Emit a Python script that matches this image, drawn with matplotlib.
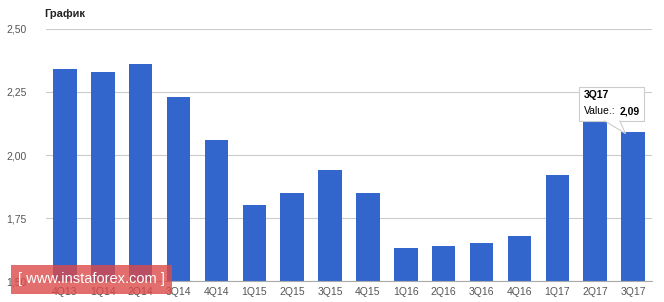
import matplotlib
matplotlib.use("Agg")
import matplotlib.pyplot as plt
from matplotlib.patches import Polygon
from matplotlib.transforms import offset_copy

plt.rcParams['font.family'] = ['Liberation Sans', 'DejaVu Sans']

# quarterly values
quarters = ['4Q13', '1Q14', '2Q14', '3Q14', '4Q14', '1Q15', '2Q15', '3Q15', '4Q15',
            '1Q16', '2Q16', '3Q16', '4Q16', '1Q17', '2Q17', '3Q17']
values = [2.34, 2.33, 2.36, 2.23, 2.06, 1.80, 1.85, 1.94, 1.85,
          1.63, 1.64, 1.65, 1.68, 1.92, 2.15, 2.09]
y_ticks = [1.50, 1.75, 2.00, 2.25, 2.50]
y_labels = ['1,50', '1,75', '2,00', '2,25', '2,50']

fig = plt.figure(figsize=(6.64, 3.02), dpi=100)
ax = fig.add_axes([0.0693, 0.0695, 0.9127, 0.8345])

x = list(range(len(quarters)))
ax.bar(x, [v - 1.5 for v in values], bottom=1.5, width=0.62, color='#3366cc', zorder=3)

ax.set_xlim(-0.5, len(quarters) - 0.5)
ax.set_ylim(1.5, 2.5)
ax.set_yticks(y_ticks)
ax.set_yticklabels(y_labels)
ax.set_xticks(x)
ax.set_xticklabels(quarters)
ax.tick_params(axis='both', length=0, labelsize=7.5, colors='#555555')
ax.tick_params(axis='y', pad=14)
ax.tick_params(axis='x', pad=4)

ax.grid(axis='y', color='#cccccc', linewidth=0.8, zorder=0)
for s in ['top', 'right', 'left']:
    ax.spines[s].set_visible(False)
ax.spines['bottom'].set_color('#aaaaaa')
ax.spines['bottom'].set_linewidth(0.8)
ax.spines['bottom'].set_zorder(4)

fig.text(0.066, 0.955, 'График', fontsize=8, fontweight='bold', color='#222222',
         va='center', ha='left')

# tooltip over the last bar
last = len(quarters) - 1
tip_x0, tip_x1 = last - 1.42, last + 0.3
tip_y0, tip_y1 = 2.135, 2.27
ax.add_patch(Polygon([[tip_x0, tip_y0], [tip_x1, tip_y0], [tip_x1, tip_y1], [tip_x0, tip_y1]],
                     closed=True, facecolor='white', edgecolor='#cccccc', linewidth=0.8, zorder=6))
ax.add_patch(Polygon([[last - 0.75, tip_y0 + 0.002], [last - 0.35, tip_y0 + 0.002],
                      [last - 0.2, values[last] - 0.005]],
                     closed=True, facecolor='white', edgecolor='none', zorder=7))
ax.plot([last - 0.75, last - 0.2, last - 0.35], [tip_y0, values[last] - 0.005, tip_y0],
        color='#cccccc', linewidth=0.8, zorder=7)
ax.text(tip_x0 + 0.12, 2.237, quarters[last], fontsize=7.5, fontweight='bold',
        color='#000000', va='center', ha='left', zorder=8)
t = ax.text(tip_x0 + 0.12, 2.173, 'Value.:', fontsize=7.5, color='#000000',
            va='center', ha='left', zorder=8)
fig.canvas.draw()
w = t.get_window_extent().width * 72 / fig.dpi
ax.text(tip_x0 + 0.12, 2.173, f'{values[last]:.2f}'.replace('.', ','), fontsize=7.5,
        fontweight='bold', color='#000000', va='center', ha='left', zorder=8,
        transform=offset_copy(ax.transData, fig=fig, x=w + 3, y=0, units='points'))

# watermark
fig.text(0.027, 0.075, '[ www.instaforex.com ]', fontsize=10.5, color='white', va='center',
         ha='left', zorder=10,
         bbox=dict(boxstyle='square,pad=0.5', facecolor='#dd4a4a', edgecolor='none', alpha=0.8))

fig.savefig('out.png', dpi=100)
